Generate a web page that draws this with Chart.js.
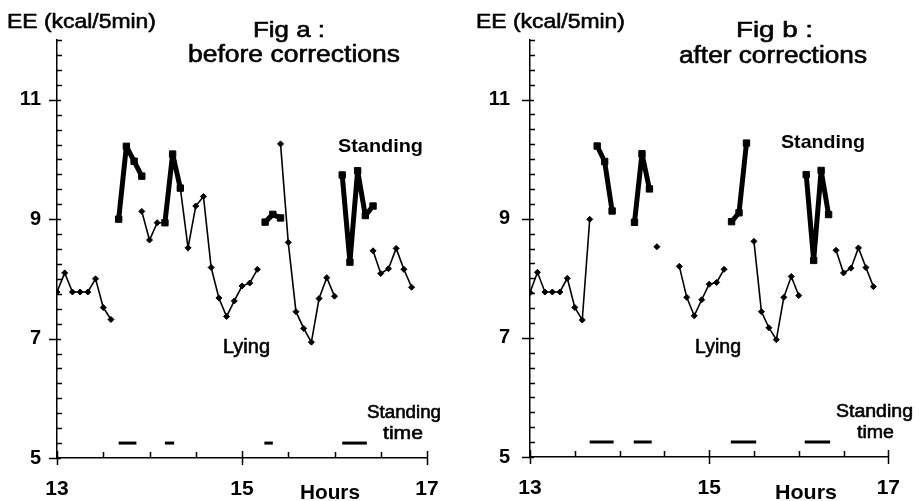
<!DOCTYPE html>
<html>
<head>
<meta charset="utf-8">
<script src="https://cdn.jsdelivr.net/npm/chart.js@4/dist/chart.umd.min.js"></script>
<style>
  html, body { margin:0; padding:0; background:#fff; }
  .row { display:flex; width:919px; height:501px; }
  canvas { display:block; }
</style>
</head>
<body>
<div class="row">
  <canvas id="figA" width="460" height="501"></canvas>
  <canvas id="figB" width="459" height="501"></canvas>
</div>
<script>
// minutes after 13:00, one reading every 5 min
const clockMin = [0,5,10,15,20,25,30,35,40,45,50,55,60,65,70,75,80,85,90,95,100,105,110,115,120,125,130,135,140,145,150,155,160,165,170,175,180,185,190,195,200,205,210,215,220,225,230];

// Fig a : before corrections (kcal/5min)
const lyingA = [7.78,8.10,7.78,7.78,7.78,8.00,7.52,7.32,null,null,null,9.13,8.65,8.94,8.94,null,9.52,8.52,9.22,9.38,8.19,7.68,7.37,7.63,7.88,7.93,8.16,null,null,10.26,8.61,7.45,7.17,6.94,7.67,8.02,7.71,null,null,null,null,8.47,8.09,8.17,8.51,8.16,7.86];
const standingA = [null,null,null,null,null,null,null,null,9.00,10.22,9.97,9.72,null,null,8.94,10.09,9.52,null,null,null,null,null,null,null,null,null,null,8.95,9.08,9.02,null,null,null,null,null,null,null,9.74,8.28,9.81,9.06,9.22,null,null,null,null,null];

// Fig b : after corrections
const lyingB = [7.76,8.10,7.77,7.77,7.77,8.00,7.51,7.30,8.99,null,null,null,null,null,null,null,null,8.53,null,null,8.20,7.68,7.37,7.64,7.90,7.93,8.15,null,null,null,8.62,7.44,7.17,6.97,7.68,8.03,7.71,null,null,null,null,8.47,8.09,8.17,8.51,8.18,7.86];
const standingB = [null,null,null,null,null,null,null,null,null,10.22,9.96,9.13,null,null,8.94,10.09,9.50,null,null,null,null,null,null,null,null,null,null,8.95,9.10,10.27,null,null,null,null,null,null,null,9.74,8.30,9.81,9.07,null,null,null,null,null,null];

// standing time periods [from, to] in minutes after 13:00
const standTimeA = [[40,51.5],[70,76],[134.5,140],[185,201]];
const standTimeB = [[40,56],[69.5,81.5],[134.5,151.5],[184,201]];
const standTimeLevel = 5.25;

const yLabels = [5,7,9,11];
const xLabels = [13,15,17];
const FONT = '"Liberation Sans", Arial, sans-serif';

const toHour = m => 13 + m/60;

// tick marks + free text
const marks = {
  id:'marks',
  afterDraw(chart, args, opts){
    const {ctx, chartArea:{left, bottom}} = chart;
    const xs = chart.scales.x, ys = chart.scales.y;
    ctx.save();
    ctx.strokeStyle = '#000'; ctx.lineWidth = 1.5;
    ctx.beginPath();
    for (let v = 5; v <= 12.001; v += 0.25){
      const y = Math.round(ys.getPixelForValue(v)) + 0.5;
      if (yLabels.includes(v)){ ctx.moveTo(left-8, y); ctx.lineTo(left+4, y); }
      else { ctx.moveTo(left, y); ctx.lineTo(left+5, y); }
    }
    for (let h = 13; h <= 17.001; h += 0.5){
      const x = Math.round(xs.getPixelForValue(h)) + 0.5;
      if (xLabels.includes(h)){ ctx.moveTo(x, bottom-7); ctx.lineTo(x, bottom+7); }
      else { ctx.moveTo(x, bottom-6); ctx.lineTo(x, bottom); }
    }
    ctx.stroke();
    ctx.fillStyle = '#000'; ctx.textAlign = 'left'; ctx.textBaseline = 'alphabetic';
    ctx.lineJoin = 'round';
    (opts.texts || []).forEach(t => {
      ctx.save();
      ctx.font = (t.bold ? 'bold ' : '') + t.size + 'px ' + FONT;
      const m = ctx.measureText(t.s).width;
      ctx.translate(t.x, t.y); ctx.scale(t.w/m, 1);
      ctx.fillText(t.s, 0, 0);
      if (!t.bold){ ctx.lineWidth = 0.6; ctx.strokeText(t.s, 0, 0); }
      ctx.restore();
    });
    ctx.restore();
  }
};

function build(id, lying, standing, bars, texts, box){
  const pts = arr => clockMin.map((m,i)=>({x:toHour(m), y:arr[i]}));
  const datasets = [
    { data:pts(standing), borderColor:'#000', backgroundColor:'#000', borderWidth:5, borderJoinStyle:'round',
      pointStyle:'rect', pointRadius:4.5, pointBorderWidth:1, spanGaps:false },
    { data:pts(lying), borderColor:'#000', backgroundColor:'#000', borderWidth:1.6,
      pointStyle:'rectRot', pointRadius:3, pointBorderWidth:1, spanGaps:false }
  ];
  bars.forEach(b => datasets.push({ data:b.map(m=>({x:toHour(m), y:standTimeLevel})), borderColor:'#000', borderWidth:3, pointRadius:0, borderCapStyle:'butt' }));

  return new Chart(document.getElementById(id), {
    type:'line',
    data:{ datasets },
    options:{
      responsive:false, animation:false, events:[],
      layout:{ padding:{ left:0, right:box.right, top:box.top, bottom:0 } },
      plugins:{ legend:{display:false}, tooltip:{enabled:false}, marks:{ texts } },
      scales:{
        x:{ type:'linear', min:13, max:17,
          afterBuildTicks: s => { s.ticks = xLabels.map(v=>({value:v})); },
          afterFit: s => { s.height = box.xh; },
          grid:{ display:true, drawOnChartArea:false, drawTicks:false },
          border:{ display:true, color:'#000', width:1.5 },
          ticks:{ autoSkip:false, maxRotation:0, padding:19, color:'#000', font:{ family:FONT, size:21, weight:'bold' } } },
        y:{ type:'linear', min:5, max:12,
          afterBuildTicks: s => { s.ticks = yLabels.map(v=>({value:v})); },
          afterFit: s => { s.width = box.yw; },
          grid:{ display:true, drawOnChartArea:false, drawTicks:false },
          border:{ display:true, color:'#000', width:1.5 },
          ticks:{ autoSkip:false, padding:box.ypad, color:'#000', font:{ family:FONT, size:20, weight:'bold' } } }
      }
    },
    plugins:[marks]
  });
}

build('figA', lyingA, standingA, standTimeA, [
  {s:'EE (kcal/5min)', x:7, y:28, size:21, w:149},
  {s:'Fig a :', x:253, y:37, size:22, w:72},
  {s:'before corrections', x:188, y:62, size:23, w:212},
  {s:'Standing', x:338, y:152, size:19, w:85, bold:true},
  {s:'Lying', x:223, y:353, size:19.5, w:47},
  {s:'Standing', x:367, y:418, size:18.5, w:74},
  {s:'time', x:383, y:439, size:18.5, w:40},
  {s:'Hours', x:300, y:499, size:21, w:60, bold:true}
], { right:33, top:40, xh:43, yw:57, ypad:16 });

build('figB', lyingB, standingB, standTimeB, [
  {s:'EE (kcal/5min)', x:16, y:28, size:21, w:149},
  {s:'Fig b :', x:276, y:37, size:22, w:77},
  {s:'after corrections', x:219, y:63, size:23, w:188},
  {s:'Standing', x:321, y:148, size:19, w:84, bold:true},
  {s:'Lying', x:235, y:353, size:19.5, w:46},
  {s:'Standing', x:376, y:417, size:18.5, w:77},
  {s:'time', x:397, y:438, size:18.5, w:37},
  {s:'Hours', x:315, y:499, size:21, w:62, bold:true}
], { right:20, top:40, xh:44, yw:70, ypad:20 });
</script>
</body>
</html>
